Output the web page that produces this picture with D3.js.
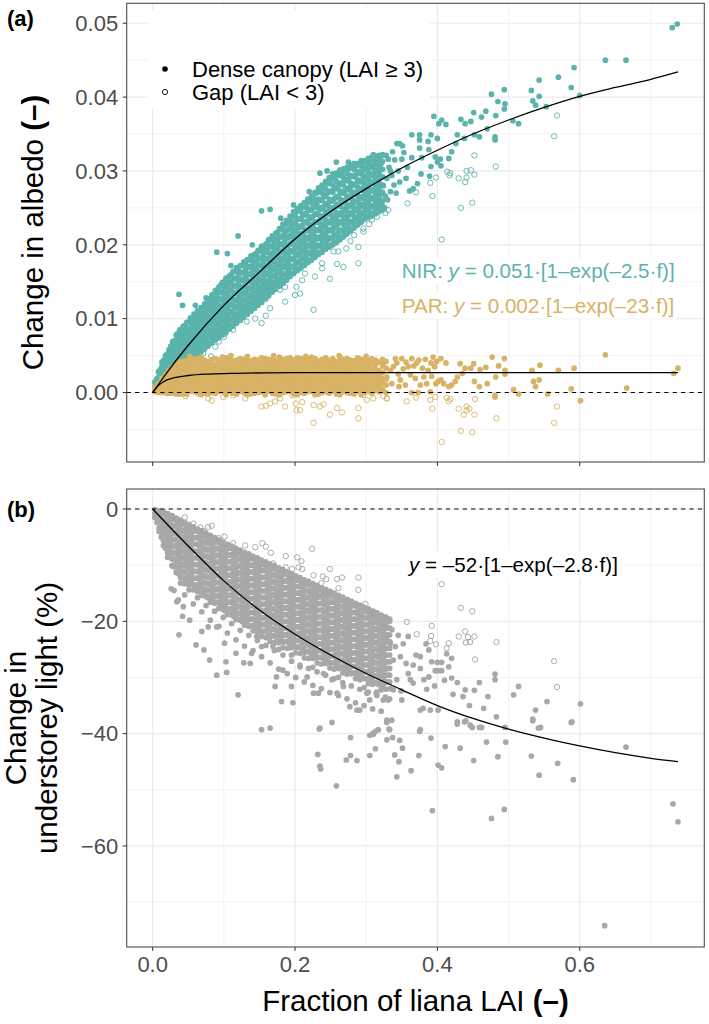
<!DOCTYPE html>
<html><head><meta charset="utf-8">
<script src="https://cdn.jsdelivr.net/npm/d3@7"></script>
<style>
body{margin:0;background:#fff}
text{font-family:"Liberation Sans",Arial,Helvetica,sans-serif}
</style>
</head><body>
<svg id="c" width="709" height="1024"></svg>
<script>
// ---------------- DATA ----------------
const xTicks=[0,0.2,0.4,0.6];
const xMinor=[0.1,0.3,0.5,0.7];
const xTickLabels=["0.0","0.2","0.4","0.6"];
const albedoTicks=[0,0.01,0.02,0.03,0.04,0.05];
const albedoTickLabels=["0.00","0.01","0.02","0.03","0.04","0.05"];
const albedoMinor=[-0.005,0.005,0.015,0.025,0.035,0.045];
const lightTicks=[0,-20,-40,-60];
const lightTickLabels=["0","\u221220","\u221240","\u221260"];
const lightMinor=[-10,-30,-50,-70];
const legendLabels=["Dense canopy (LAI \u2265 3)","Gap (LAI < 3)"];

// NIR, dense canopy (filled teal): columns [f, [albedo change ...]]
const nirDense=[
[.003,[.0002,.0008,.0014]],
[.008,[.0006,.0013,.0021,.0028]],
[.013,[.0011,.0019,.0027,.0035,.0041]],
[.018,[.0016,.0021,.0029,.0037,.0045,.0050]],
[.023,[.0021,.0027,.0034,.0042,.0050,.0058]],
[.028,[.0026,.0031,.0040,.0048,.0056,.0064,.0069]],
[.033,[.0031,.0039,.0047,.0055,.0063,.0071,.0078]],
[.038,[.0036,.0041,.0049,.0057,.0065,.0073,.0081,.0085]],
[.043,[.0040,.0046,.0055,.0064,.0073,.0082,.0090]],
[.048,[.0044,.0052,.0061,.0069,.0078,.0086,.0095]],
[.053,[.0047,.0052,.0061,.0070,.0078,.0087,.0096,.0101]],
[.058,[.0050,.0057,.0065,.0074,.0083,.0092,.0101,.0106]],
[.063,[.0052,.0059,.0068,.0076,.0085,.0094,.0103,.0111]],
[.068,[.0055,.0061,.0070,.0079,.0088,.0097,.0106,.0115]],
[.073,[.0059,.0067,.0076,.0085,.0094,.0103,.0112,.0120]],
[.078,[.0063,.0066,.0075,.0084,.0093,.0102,.0111,.0120,.0126]],
[.083,[.0067,.0074,.0083,.0092,.0101,.0110,.0119,.0128,.0132]],
[.088,[.0071,.0076,.0085,.0094,.0103,.0112,.0121,.0130,.0138]],
[.093,[.0074,.0082,.0091,.0100,.0109,.0118,.0127,.0136,.0143]],
[.098,[.0078,.0081,.0090,.0099,.0108,.0117,.0126,.0135,.0144,.0149]],
[.103,[.0082,.0089,.0098,.0107,.0116,.0125,.0134,.0143,.0152,.0155]],
[.108,[.0086,.0091,.0100,.0110,.0119,.0129,.0138,.0148,.0158]],
[.113,[.0090,.0098,.0107,.0117,.0126,.0136,.0145,.0155,.0164]],
[.118,[.0094,.0097,.0106,.0116,.0125,.0135,.0144,.0154,.0163,.0169]],
[.123,[.0098,.0105,.0114,.0124,.0133,.0143,.0152,.0162,.0172]],
[.128,[.0102,.0106,.0116,.0125,.0135,.0144,.0154,.0163,.0173,.0177]],
[.133,[.0106,.0114,.0123,.0133,.0142,.0152,.0161,.0171,.0180]],
[.138,[.0110,.0112,.0122,.0131,.0141,.0150,.0160,.0169,.0179,.0185]],
[.143,[.0114,.0120,.0130,.0139,.0149,.0158,.0168,.0177,.0187]],
[.148,[.0118,.0126,.0136,.0145,.0155,.0164,.0174,.0183,.0192]],
[.153,[.0122,.0124,.0134,.0143,.0153,.0162,.0172,.0181,.0191,.0198]],
[.158,[.0127,.0133,.0143,.0152,.0162,.0171,.0181,.0190,.0200]],
[.163,[.0131,.0139,.0149,.0159,.0169,.0179,.0189,.0199,.0207]],
[.168,[.0136,.0138,.0148,.0158,.0168,.0178,.0188,.0198,.0208,.0212]],
[.173,[.0140,.0146,.0156,.0166,.0176,.0186,.0196,.0206,.0216]],
[.178,[.0144,.0152,.0162,.0172,.0182,.0192,.0202,.0212,.0222]],
[.183,[.0148,.0150,.0160,.0170,.0180,.0190,.0200,.0210,.0220,.0228]],
[.188,[.0152,.0159,.0169,.0179,.0189,.0199,.0209,.0219,.0229,.0233]],
[.193,[.0157,.0162,.0172,.0182,.0192,.0202,.0212,.0222,.0232,.0239]],
[.198,[.0161,.0170,.0180,.0190,.0200,.0210,.0220,.0230,.0240,.0245]],
[.203,[.0165,.0166,.0176,.0186,.0196,.0206,.0216,.0226,.0236,.0246,.0249]],
[.208,[.0168,.0175,.0185,.0195,.0205,.0215,.0225,.0235,.0245,.0253]],
[.213,[.0172,.0181,.0191,.0201,.0211,.0221,.0231,.0241,.0251,.0257]],
[.218,[.0176,.0179,.0189,.0199,.0209,.0219,.0229,.0239,.0249,.0259,.0262]],
[.223,[.0179,.0187,.0197,.0207,.0217,.0227,.0237,.0247,.0257,.0266]],
[.228,[.0183,.0191,.0201,.0211,.0221,.0231,.0241,.0251,.0261,.0271]],
[.233,[.0187,.0189,.0199,.0209,.0220,.0230,.0241,.0251,.0262,.0272,.0277]],
[.238,[.0190,.0197,.0207,.0218,.0228,.0239,.0249,.0260,.0270,.0281]],
[.243,[.0194,.0203,.0213,.0224,.0234,.0245,.0255,.0266,.0276,.0286]],
[.248,[.0197,.0199,.0209,.0220,.0230,.0241,.0251,.0262,.0272,.0283,.0291]],
[.253,[.0200,.0208,.0218,.0229,.0239,.0250,.0260,.0271,.0281,.0292,.0296]],
[.258,[.0203,.0213,.0223,.0234,.0244,.0255,.0265,.0276,.0286,.0297]],
[.263,[.0207,.0210,.0220,.0231,.0241,.0252,.0262,.0273,.0283,.0294,.0301]],
[.268,[.0211,.0218,.0228,.0239,.0249,.0260,.0270,.0281,.0291,.0303]],
[.273,[.0215,.0224,.0234,.0245,.0255,.0266,.0276,.0287,.0297,.0305]],
[.278,[.0219,.0221,.0231,.0242,.0252,.0263,.0273,.0284,.0294,.0305,.0308]],
[.283,[.0223,.0229,.0239,.0250,.0260,.0271,.0281,.0292,.0302,.0310]],
[.288,[.0227,.0236,.0246,.0257,.0267,.0278,.0288,.0299,.0309]],
[.293,[.0231,.0233,.0243,.0254,.0264,.0275,.0285,.0296,.0306,.0314]],
[.298,[.0235,.0241,.0251,.0262,.0272,.0283,.0293,.0304,.0314]],
[.303,[.0237,.0246,.0256,.0267,.0277,.0288,.0298,.0309,.0317]],
[.308,[.0239,.0242,.0252,.0263,.0273,.0284,.0294,.0305,.0315,.0319]],
[.313,[.0242,.0249,.0259,.0270,.0280,.0291,.0301,.0312,.0320]],
[.318,[.0245,.0254,.0264,.0275,.0285,.0296,.0306,.0316,.0321]],
[.323,[.0247,.0250,.0260,.0271,.0281,.0292,.0302,.0313,.0322]]
];
// NIR dense canopy: second set of columns lying between the first ones
const nirDenseB=[
[.0055,[.0005,.0011,.0018]],
[.0105,[.0009,.0016,.0024,.0031]],
[.0155,[.0014,.0022,.0030,.0038,.0044]],
[.0205,[.0020,.0028,.0036,.0044,.0052]],
[.0255,[.0025,.0033,.0041,.0049,.0057,.0063]],
[.0305,[.0030,.0038,.0046,.0054,.0062,.0070]],
[.0355,[.0035,.0043,.0051,.0059,.0067,.0075,.0080]],
[.0405,[.0039,.0047,.0055,.0063,.0071,.0079,.0086]],
[.0455,[.0043,.0051,.0059,.0067,.0075,.0083,.0091]],
[.0505,[.0047,.0055,.0063,.0071,.0079,.0087,.0095]],
[.0555,[.0050,.0058,.0066,.0074,.0082,.0091,.0100]],
[.0605,[.0053,.0061,.0070,.0078,.0087,.0096,.0104]],
[.0655,[.0056,.0064,.0073,.0082,.0091,.0100,.0109]],
[.0705,[.0059,.0068,.0077,.0086,.0095,.0104,.0113]],
[.0755,[.0063,.0072,.0081,.0090,.0099,.0108,.0117]],
[.0805,[.0067,.0076,.0085,.0094,.0103,.0112,.0122,.0127]],
[.0855,[.0071,.0080,.0089,.0098,.0107,.0116,.0126,.0133]],
[.0905,[.0075,.0084,.0093,.0102,.0111,.0121,.0131,.0139]],
[.0955,[.0079,.0088,.0097,.0106,.0116,.0126,.0136,.0145]],
[.1005,[.0083,.0092,.0101,.0111,.0121,.0131,.0141,.0150]],
[.1055,[.0087,.0096,.0105,.0115,.0125,.0135,.0145,.0155]],
[.1105,[.0090,.0099,.0109,.0119,.0129,.0139,.0149,.0160]],
[.1155,[.0095,.0104,.0114,.0124,.0134,.0144,.0154,.0164]],
[.1205,[.0099,.0108,.0118,.0128,.0138,.0148,.0158,.0168]],
[.1255,[.0103,.0112,.0122,.0132,.0142,.0152,.0162,.0172]],
[.1305,[.0107,.0116,.0126,.0136,.0146,.0156,.0166,.0176]],
[.1355,[.0111,.0120,.0130,.0140,.0150,.0160,.0170,.0180]],
[.1405,[.0115,.0124,.0134,.0144,.0154,.0164,.0174,.0184]],
[.1455,[.0119,.0128,.0138,.0148,.0158,.0168,.0178,.0188]],
[.1505,[.0123,.0132,.0142,.0152,.0162,.0172,.0182,.0193]],
[.1555,[.0128,.0137,.0147,.0157,.0167,.0177,.0187,.0197]],
[.1605,[.0132,.0141,.0151,.0161,.0171,.0181,.0192,.0202]],
[.1655,[.0136,.0145,.0155,.0165,.0175,.0186,.0197,.0207]],
[.1705,[.0140,.0149,.0159,.0169,.0180,.0191,.0202,.0212]],
[.1755,[.0144,.0153,.0163,.0174,.0185,.0196,.0207,.0217]],
[.1805,[.0148,.0157,.0167,.0178,.0189,.0200,.0211,.0222]],
[.1855,[.0152,.0161,.0172,.0183,.0194,.0205,.0216,.0227]],
[.1905,[.0157,.0166,.0177,.0188,.0199,.0210,.0221,.0232]],
[.1955,[.0161,.0170,.0181,.0192,.0203,.0214,.0226,.0238]],
[.2005,[.0165,.0174,.0185,.0196,.0207,.0219,.0231,.0243]],
[.2055,[.0168,.0178,.0189,.0200,.0211,.0223,.0235,.0247]],
[.2105,[.0172,.0182,.0193,.0204,.0215,.0227,.0239,.0251]],
[.2155,[.0175,.0185,.0196,.0207,.0219,.0231,.0243,.0255]],
[.2205,[.0179,.0189,.0200,.0211,.0223,.0235,.0247,.0260]],
[.2255,[.0183,.0193,.0204,.0215,.0227,.0239,.0252,.0265]],
[.2305,[.0187,.0197,.0208,.0219,.0231,.0243,.0256,.0270]],
[.2355,[.0190,.0200,.0211,.0223,.0235,.0248,.0261,.0275]],
[.2405,[.0194,.0204,.0215,.0227,.0239,.0252,.0265,.0279]],
[.2455,[.0197,.0207,.0218,.0230,.0243,.0256,.0270,.0284]],
[.2505,[.0200,.0210,.0221,.0233,.0246,.0259,.0273,.0288]],
[.2555,[.0203,.0213,.0225,.0237,.0250,.0263,.0277,.0291]],
[.2605,[.0206,.0216,.0228,.0240,.0253,.0266,.0280,.0294]],
[.2655,[.0210,.0220,.0232,.0244,.0257,.0270,.0284,.0298]],
[.2705,[.0214,.0224,.0236,.0248,.0261,.0274,.0287,.0301]],
[.2755,[.0218,.0228,.0240,.0252,.0264,.0277,.0290,.0303]],
[.2805,[.0222,.0232,.0244,.0256,.0268,.0280,.0293,.0305]],
[.2855,[.0226,.0236,.0247,.0259,.0271,.0283,.0295,.0307]],
[.2905,[.0230,.0240,.0251,.0262,.0274,.0286,.0298,.0309]],
[.2955,[.0234,.0244,.0255,.0266,.0277,.0289,.0301,.0311]],
[.3005,[.0238,.0248,.0258,.0269,.0280,.0291,.0303,.0313]],
[.3055,[.0240,.0250,.0261,.0272,.0283,.0294,.0305,.0315]],
[.3105,[.0243,.0253,.0264,.0275,.0286,.0297,.0308,.0317]],
[.3155,[.0246,.0256,.0267,.0278,.0289,.0300,.0310,.0318]],
[.3205,[.0248,.0258,.0269,.0280,.0291,.0302,.0312,.0320]]
];
// NIR dense canopy: scattered points [f, albedo change]
const nirDenseExtra=[
[.037,.0133],[.042,.0118],[.060,.0118],[.075,.0128],[.090,.0190],[.105,.0188],[.110,.0172],[.120,.0212],
[.140,.0200],[.153,.0246],[.165,.0248],[.180,.0236],[.198,.0254],[.220,.0272],[.235,.0297],[.245,.0300],
[.258,.0312],[.275,.0312],[.730,.0494],[.737,.0499],[.636,.0450],[.665,.0450],[.592,.0440],[.570,.0427],
[.543,.0423],[.588,.0413],[.600,.0402],[.532,.0409],[.543,.0401],[.534,.0395],[.538,.0389],[.553,.0387],
[.494,.0410],[.476,.0404],[.495,.0391],[.494,.0384],[.485,.0394],[.506,.0368],[.514,.0364],[.482,.0375],
[.468,.0381],[.462,.0373],[.451,.0379],[.447,.0367],[.433,.0370],[.439,.0364],[.470,.0357],[.459,.0346],
[.452,.0349],[.481,.0346],[.481,.0342],[.395,.0374],[.402,.0364],[.406,.0369],[.412,.0363],[.428,.0349],
[.426,.0337],[.438,.0344],[.364,.0349],[.375,.0349],[.391,.0349],[.375,.0342],[.400,.0344],[.387,.0340],
[.388,.0329],[.375,.0331],[.343,.0337],[.347,.0337],[.351,.0334],[.337,.0326],[.328,.0321],[.321,.0310],
[.310,.0322],[.306,.0315],[.287,.0310],[.350,.0316],[.364,.0318],[.378,.0318],[.397,.0319],[.404,.0316],
[.416,.0317],[.400,.0312],[.391,.0306],[.405,.0307],[.420,.0326],[.377,.0296],[.389,.0293],[.372,.0283],
[.361,.0273],[.366,.0276],[.347,.0285],[.339,.0281],[.334,.0272],[.327,.0266],[.330,.0261],[.322,.0255],
[.334,.0300],[.336,.0294],[.326,.0250],[.329,.0290],[.332,.0305],[.340,.0315],[.345,.0300],[.356,.0290],
[.358,.0305],[.353,.0325],[.342,.0270],[.324,.0280],[.331,.0316]
];
// NIR, gap (open teal)
const nirGap=[
[.568,.0375],[.564,.0347],[.452,.0321],[.482,.0306],[.414,.0299],[.418,.0297],[.417,.0294],[.398,.0291],
[.390,.0284],[.393,.0266],[.370,.0271],[.358,.0256],[.433,.0250],[.449,.0257],[.430,.0290],[.439,.0285],
[.441,.0300],[.447,.0301],[.452,.0295],[.441,.0291],[.331,.0247],[.327,.0243],[.315,.0238],[.308,.0234],
[.304,.0228],[.296,.0222],[.296,.0218],[.406,.0207],[.289,.0197],[.289,.0175],[.249,.0154],[.226,.0112],
[.259,.0174],[.268,.0170],[.254,.0191],[.261,.0191],[.238,.0168],[.238,.0175],[.228,.0157],[.214,.0161],
[.202,.0143],[.207,.0134],[.210,.0152],[.200,.0132],[.186,.0123],[.186,.0143],[.179,.0139],[.175,.0148],
[.160,.0132],[.159,.0127],[.165,.0114],[.159,.0104],[.153,.0094],[.144,.0100],[.132,.0096],[.131,.0107],
[.121,.0100],[.113,.0085],[.102,.0080],[.100,.0075],[.093,.0069],[.088,.0062],[.082,.0049],[.071,.0053],
[.066,.0064],[.060,.0049],[.050,.0047],[.047,.0052],[.144,.0121],[.137,.0118],[.278,.0205],[.283,.0213],
[.272,.0195],[.318,.0252]
];
// PAR, dense canopy (filled tan): columns
const parDense=[
[.003,[.0001,.0004,.0007]],
[.008,[.0000,.0004,.0008,.0012]],
[.013,[.0000,.0005,.0010,.0015,.0019]],
[.018,[.0000,.0005,.0010,.0015,.0020,.0024]],
[.023,[-.0001,.0004,.0010,.0015,.0021,.0026,.0030]],
[.028,[-.0001,.0005,.0011,.0017,.0023,.0029,.0034]],
[.033,[-.0002,.0004,.0010,.0016,.0022,.0028,.0034,.0038]],
[.038,[-.0002,.0004,.0011,.0017,.0024,.0030,.0036,.0041]],
[.043,[-.0002,.0005,.0011,.0018,.0024,.0031,.0037,.0043]],
[.048,[-.0002,.0004,.0011,.0017,.0024,.0030,.0037,.0043]],
[.053,[.0002,.0008,.0015,.0021,.0028,.0034,.0041,.0047]],
[.058,[.0001,.0007,.0014,.0020,.0027,.0033,.0040,.0045]],
[.063,[.0000,.0006,.0013,.0019,.0026,.0032,.0039,.0046]],
[.068,[-.0003,.0003,.0009,.0016,.0022,.0029,.0035,.0042,.0048]],
[.073,[-.0001,.0005,.0012,.0018,.0025,.0031,.0038,.0044]],
[.078,[-.0002,.0004,.0011,.0017,.0024,.0030,.0037,.0042]],
[.083,[.0000,.0006,.0013,.0019,.0026,.0032,.0039,.0045]],
[.088,[-.0001,.0005,.0012,.0018,.0025,.0031,.0038,.0046]],
[.093,[.0001,.0007,.0014,.0020,.0027,.0033,.0040,.0044]],
[.098,[.0002,.0008,.0015,.0021,.0028,.0034,.0041,.0048]],
[.103,[-.0003,.0003,.0009,.0016,.0022,.0029,.0035,.0042,.0047]],
[.108,[.0001,.0007,.0014,.0020,.0027,.0033,.0040,.0046]],
[.113,[-.0001,.0005,.0012,.0018,.0025,.0031,.0038,.0043]],
[.118,[-.0002,.0004,.0011,.0017,.0024,.0030,.0037,.0044]],
[.123,[.0002,.0008,.0015,.0021,.0028,.0034,.0041,.0046]],
[.128,[.0000,.0006,.0013,.0019,.0026,.0032,.0039,.0045]],
[.133,[-.0003,.0003,.0009,.0016,.0022,.0029,.0035,.0042,.0049]],
[.138,[-.0002,.0004,.0011,.0017,.0024,.0030,.0037,.0043]],
[.143,[-.0001,.0005,.0012,.0018,.0025,.0031,.0038,.0045]],
[.148,[.0000,.0006,.0013,.0019,.0026,.0032,.0039,.0044]],
[.153,[.0001,.0007,.0014,.0020,.0027,.0033,.0040,.0047]],
[.158,[-.0003,.0003,.0009,.0016,.0022,.0029,.0035,.0042,.0046]],
[.163,[.0002,.0008,.0015,.0021,.0028,.0034,.0041,.0045]],
[.168,[-.0001,.0005,.0012,.0018,.0025,.0031,.0038,.0044]],
[.173,[-.0002,.0004,.0011,.0017,.0024,.0030,.0037,.0043]],
[.178,[-.0003,.0003,.0009,.0016,.0022,.0029,.0035,.0042,.0048]],
[.183,[.0000,.0006,.0013,.0019,.0026,.0032,.0039,.0045]],
[.188,[.0001,.0007,.0014,.0020,.0027,.0033,.0040,.0046]],
[.193,[.0002,.0008,.0015,.0021,.0028,.0034,.0041,.0047]],
[.198,[-.0002,.0004,.0011,.0017,.0024,.0030,.0037,.0044]],
[.203,[-.0003,.0003,.0009,.0016,.0022,.0029,.0035,.0042,.0047]],
[.208,[.0000,.0006,.0013,.0019,.0026,.0032,.0039,.0046]],
[.213,[-.0001,.0005,.0012,.0018,.0025,.0031,.0038,.0043]],
[.218,[.0001,.0007,.0014,.0020,.0027,.0033,.0040,.0045]],
[.223,[.0002,.0008,.0015,.0021,.0028,.0034,.0041,.0048]],
[.228,[-.0003,.0003,.0009,.0016,.0022,.0029,.0035,.0042,.0046]],
[.233,[-.0002,.0004,.0011,.0017,.0024,.0030,.0037,.0043]],
[.238,[.0000,.0006,.0013,.0019,.0026,.0032,.0039,.0045]],
[.243,[.0001,.0007,.0014,.0020,.0027,.0033,.0040,.0047]],
[.248,[-.0001,.0005,.0012,.0018,.0025,.0031,.0038,.0044]],
[.253,[.0002,.0008,.0015,.0021,.0028,.0034,.0041,.0046]],
[.258,[-.0002,.0004,.0011,.0017,.0024,.0030,.0037,.0042]],
[.263,[-.0003,.0003,.0009,.0016,.0022,.0029,.0035,.0042,.0048]],
[.268,[.0001,.0007,.0014,.0020,.0027,.0033,.0040,.0045]],
[.273,[.0000,.0006,.0013,.0019,.0026,.0032,.0039,.0046]],
[.278,[-.0001,.0005,.0012,.0018,.0025,.0031,.0038,.0044]],
[.283,[-.0002,.0004,.0011,.0017,.0024,.0030,.0037,.0043]],
[.288,[.0002,.0008,.0015,.0021,.0028,.0034,.0041,.0047]],
[.293,[-.0003,.0003,.0009,.0016,.0022,.0029,.0035,.0042,.0045]],
[.298,[.0000,.0005,.0011,.0018,.0024,.0031,.0037,.0044]],
[.303,[.0002,.0009,.0016,.0022,.0029,.0036,.0043]],
[.308,[-.0001,.0006,.0012,.0019,.0025,.0032,.0040,.0046]],
[.313,[.0003,.0010,.0017,.0024,.0031,.0038,.0044]],
[.318,[.0001,.0008,.0015,.0022,.0030,.0041]],
[.323,[.0004,.0012,.0019,.0027,.0036,.0045]],
[.328,[.0000,.0010,.0018,.0033,.0042]]
];
const parDenseExtra=[
[.636,.0051],[.738,.0033],[.732,.0026],[.666,.0006],[.601,-.0011],[.592,.0033],[.588,.0005],[.570,.0030],
[.555,-.0002],[.544,.0037],[.543,.0017],[.535,.0015],[.538,.0008],[.533,.0030],[.514,-.0002],[.507,.0004],
[.494,.0046],[.495,.0030],[.495,.0025],[.482,.0021],[.486,.0036],[.477,.0048],[.481,-.0004],[.470,.0012],
[.468,.0034],[.460,.0031],[.459,.0008],[.452,.0015],[.451,.0039],[.447,.0033],[.439,.0033],[.435,.0026],
[.432,.0039],[.428,.0021],[.425,.0015],[.420,.0010],[.416,.0008],[.409,.0012],[.405,.0017],[.401,.0015],
[.398,.0012],[.405,.0046],[.394,.0048],[.399,.0042],[.412,.0040],[.391,.0040],[.387,.0030],[.381,.0021],
[.376,.0010],[.374,.0044],[.371,.0040],[.364,.0046],[.362,.0024],[.359,.0035],[.350,.0046],[.348,.0017],
[.343,.0040],[.341,.0046],[.334,.0030],[.329,.0021],[.324,.0040],[.364,.0000],[.373,.0000],[.390,.0001],
[.481,-.0006],[.338,.0035],[.345,.0025],[.352,.0032],[.356,.0041],[.367,.0036],[.369,.0019],[.379,.0033],
[.383,.0045],[.385,.0012],[.392,.0022],[.396,.0035],[.346,.0008],[.336,.0012],[.355,.0010],
[.052,.0049],[.110,.0050],[.170,.0050],[.215,.0049],[.262,.0050],[.300,.0049]
];
// PAR, gap (open tan)
const parGap=[
[.406,-.0067],[.433,-.0052],[.449,-.0054],[.483,-.0035],[.564,-.0041],[.568,-.0019],[.430,-.0022],[.437,-.0030],
[.441,-.0024],[.445,-.0022],[.452,-.0030],[.441,-.0019],[.453,-.0009],[.416,-.0012],[.418,-.0009],[.413,-.0007],
[.393,-.0022],[.390,-.0010],[.397,-.0006],[.370,-.0007],[.357,-.0012],[.329,-.0008],[.324,-.0005],
[.226,-.0041],[.289,-.0035],[.289,-.0021],[.249,-.0030],[.266,-.0027],[.259,-.0021],[.240,-.0016],[.235,-.0019],
[.226,-.0017],[.207,-.0024],[.202,-.0024],[.201,-.0015],[.210,-.0013],[.186,-.0019],[.172,-.0012],[.165,-.0015],
[.159,-.0018],[.153,-.0019],[.130,-.0008],[.113,-.0004],[.099,-.0006],[.083,-.0011],[.078,-.0008],[.064,-.0002],
[.046,-.0005],[.020,-.0001],[.179,-.0008],[.196,-.0004],[.301,-.0010],[.310,-.0008],[.329,-.0008],[.296,-.0003]
];
// Understorey light, dense canopy (filled grey): columns [f, [% change ...]]
const lightDense=[
[.003,[-0.1,-0.8,-1.5]],
[.009,[-0.3,-1.0,-2.2,-3.4,-4.0]],
[.015,[-0.5,-0.8,-2.0,-3.2,-4.4,-5.6,-6.5]],
[.021,[-0.8,-1.8,-3.0,-4.2,-5.4,-6.6,-7.8,-8.6]],
[.027,[-1.2,-1.7,-2.9,-4.1,-5.3,-6.5,-7.7,-8.9,-10.1]],
[.033,[-1.6,-2.9,-4.1,-5.3,-6.5,-7.7,-8.9,-10.1,-11.3]],
[.039,[-2.0,-2.9,-4.1,-5.3,-6.5,-7.7,-8.9,-10.1,-11.3,-12.2,-13.2]],
[.045,[-2.4,-2.8,-4.0,-5.2,-6.4,-7.6,-8.8,-10.0,-11.2,-12.4,-13.3,-15.3]],
[.051,[-2.8,-4.0,-5.2,-6.4,-7.6,-8.8,-10.0,-11.2,-12.4,-13.5,-14.4]],
[.057,[-3.2,-3.9,-5.1,-6.3,-7.5,-8.7,-9.9,-11.1,-12.3,-13.5,-14.4,-16.9]],
[.063,[-3.6,-3.9,-5.1,-6.3,-7.5,-8.7,-9.9,-11.1,-12.3,-13.5,-14.7,-15.8]],
[.069,[-3.9,-4.9,-6.1,-7.3,-8.5,-9.7,-10.9,-12.1,-13.3,-14.5,-15.4,-18.3]],
[.075,[-4.3,-4.8,-6.0,-7.2,-8.4,-9.6,-10.8,-12.0,-13.2,-14.4,-15.6,-17.2]],
[.081,[-4.7,-6.0,-7.2,-8.4,-9.6,-10.8,-12.0,-13.2,-14.4,-15.6,-16.6,-19.8]],
[.087,[-5.1,-6.0,-7.2,-8.4,-9.6,-10.8,-12.0,-13.2,-14.4,-15.6,-16.8,-18.2]],
[.093,[-5.5,-5.9,-7.1,-8.3,-9.5,-10.7,-11.9,-13.1,-14.3,-15.5,-16.7,-17.7,-20.9]],
[.099,[-5.9,-7.1,-8.3,-9.5,-10.7,-11.9,-13.1,-14.3,-15.5,-16.7,-17.9,-19.3]],
[.105,[-6.3,-7.0,-8.2,-9.4,-10.6,-11.8,-13.0,-14.2,-15.4,-16.6,-17.8,-18.8,-22.1]],
[.111,[-6.6,-6.9,-8.1,-9.3,-10.5,-11.7,-12.9,-14.1,-15.3,-16.5,-17.7,-18.9,-20.4]],
[.117,[-7.0,-8.0,-9.2,-10.4,-11.6,-12.8,-14.0,-15.2,-16.4,-17.6,-18.8,-19.7,-23.3]],
[.123,[-7.3,-7.8,-9.0,-10.2,-11.4,-12.6,-13.8,-15.0,-16.2,-17.4,-18.6,-19.8,-21.6]],
[.129,[-7.7,-9.0,-10.2,-11.4,-12.6,-13.8,-15.0,-16.2,-17.4,-18.6,-19.8,-20.7,-24.4]],
[.135,[-8.0,-8.9,-10.1,-11.3,-12.5,-13.7,-14.9,-16.1,-17.3,-18.5,-19.7,-20.9,-22.5]],
[.141,[-8.4,-8.8,-10.0,-11.2,-12.4,-13.6,-14.8,-16.0,-17.2,-18.4,-19.6,-20.8,-21.7,-25.2]],
[.147,[-8.7,-9.9,-11.1,-12.3,-13.5,-14.7,-15.9,-17.1,-18.3,-19.5,-20.7,-21.9,-23.4]],
[.153,[-9.1,-9.8,-11.0,-12.2,-13.4,-14.6,-15.8,-17.0,-18.2,-19.4,-20.6,-21.8,-22.7,-26.3]],
[.159,[-9.4,-9.7,-10.9,-12.1,-13.3,-14.5,-15.7,-16.9,-18.1,-19.3,-20.5,-21.7,-22.9,-24.3]],
[.165,[-9.8,-10.8,-12.0,-13.2,-14.4,-15.6,-16.8,-18.0,-19.2,-20.4,-21.6,-22.8,-23.6,-27.4]],
[.171,[-10.1,-10.6,-11.8,-13.0,-14.2,-15.4,-16.6,-17.8,-19.0,-20.2,-21.4,-22.6,-23.8,-25.2]],
[.177,[-10.5,-11.8,-13.0,-14.2,-15.4,-16.6,-17.8,-19.0,-20.2,-21.4,-22.6,-23.8,-25.0,-28.5]],
[.183,[-10.8,-11.7,-12.9,-14.1,-15.3,-16.5,-17.7,-18.9,-20.1,-21.3,-22.5,-23.7,-24.7,-26.0]],
[.189,[-11.2,-11.6,-12.8,-14.0,-15.2,-16.4,-17.6,-18.8,-20.0,-21.2,-22.4,-23.6,-24.8,-29.3]],
[.195,[-11.5,-12.7,-13.9,-15.1,-16.3,-17.5,-18.7,-19.9,-21.1,-22.3,-23.5,-24.7,-26.0,-27.1]],
[.201,[-11.9,-12.6,-13.8,-15.0,-16.2,-17.4,-18.6,-19.8,-21.0,-22.2,-23.4,-24.6,-25.6,-30.0]],
[.207,[-12.2,-12.5,-13.7,-14.9,-16.1,-17.3,-18.5,-19.7,-20.9,-22.1,-23.3,-24.5,-25.7,-27.8]],
[.213,[-12.6,-13.6,-14.8,-16.0,-17.2,-18.4,-19.6,-20.8,-22.0,-23.2,-24.4,-25.6,-26.5,-30.8]],
[.219,[-12.9,-13.4,-14.6,-15.8,-17.0,-18.2,-19.4,-20.6,-21.8,-23.0,-24.2,-25.4,-26.6,-28.4]],
[.225,[-13.3,-14.6,-15.8,-17.0,-18.2,-19.4,-20.6,-21.8,-23.0,-24.2,-25.4,-26.6,-28.2,-31.4]],
[.231,[-13.6,-14.5,-15.7,-16.9,-18.1,-19.3,-20.5,-21.7,-22.9,-24.1,-25.3,-26.5,-27.4,-29.0]],
[.237,[-14.0,-14.4,-15.6,-16.8,-18.0,-19.2,-20.4,-21.6,-22.8,-24.0,-25.2,-26.4,-27.6,-32.0]],
[.243,[-14.3,-15.5,-16.7,-17.9,-19.1,-20.3,-21.5,-22.7,-23.9,-25.1,-26.3,-27.5,-29.6]],
[.249,[-14.7,-15.4,-16.6,-17.8,-19.0,-20.2,-21.4,-22.6,-23.8,-25.0,-26.2,-27.4,-28.3,-32.7]],
[.255,[-15.0,-15.3,-16.5,-17.7,-18.9,-20.1,-21.3,-22.5,-23.7,-24.9,-26.1,-27.3,-28.5,-30.2]],
[.261,[-15.4,-16.4,-17.6,-18.8,-20.0,-21.2,-22.4,-23.6,-24.8,-26.0,-27.2,-28.4,-30.0,-33.2]],
[.267,[-15.7,-16.2,-17.4,-18.6,-19.8,-21.0,-22.2,-23.4,-24.6,-25.8,-27.0,-28.2,-29.2,-30.9]],
[.273,[-16.1,-17.4,-18.6,-19.8,-21.0,-22.2,-23.4,-24.6,-25.8,-27.0,-28.2,-29.4,-33.8]],
[.279,[-16.4,-17.3,-18.5,-19.7,-20.9,-22.1,-23.3,-24.5,-25.7,-26.9,-28.1,-29.3,-31.5]],
[.285,[-16.8,-17.2,-18.4,-19.6,-20.8,-22.0,-23.2,-24.4,-25.6,-26.8,-28.0,-29.2,-30.2,-34.5]],
[.291,[-17.1,-18.3,-19.5,-20.7,-21.9,-23.1,-24.3,-25.5,-26.7,-27.9,-29.1,-30.3,-32.1]],
[.297,[-17.5,-18.2,-19.4,-20.6,-21.8,-23.0,-24.2,-25.4,-26.6,-27.8,-29.0,-30.2,-31.8,-35.0]],
[.303,[-17.8,-18.1,-19.3,-20.5,-21.7,-22.9,-24.1,-25.3,-26.5,-27.7,-28.9,-30.1,-31.1,-32.6]],
[.309,[-18.2,-19.2,-20.4,-21.6,-22.8,-24.0,-25.2,-26.4,-27.6,-28.8,-30.0,-31.2,-35.6]],
[.315,[-18.5,-19.0,-20.2,-21.4,-22.6,-23.8,-25.0,-26.2,-27.4,-28.6,-29.8,-31.0,-32.6,-33.2]],
[.321,[-18.9,-20.2,-21.4,-22.6,-23.8,-25.0,-26.2,-27.4,-28.6,-29.8,-31.0,-32.2,-36.0]],
[.327,[-19.2,-20.1,-21.3,-22.5,-23.7,-24.9,-26.1,-27.3,-28.5,-29.7,-30.9,-32.1,-33.5]],
[.333,[-19.6,-20.0,-21.2,-22.4,-23.6,-24.8,-26.0,-27.2,-28.4,-29.6,-30.8,-32.0,-33.8]]
];
// Understorey light, dense canopy: second set of columns lying between the first ones
const lightDenseB=[
[.006,[-0.4,-1.3,-2.4]],
[.012,[-0.6,-1.6,-2.8,-4.0,-5.0]],
[.018,[-1.0,-2.2,-3.4,-4.6,-5.8,-7.0]],
[.024,[-1.4,-2.5,-3.7,-4.9,-6.1,-7.3,-8.5]],
[.030,[-1.9,-3.1,-4.3,-5.5,-6.7,-7.9,-9.1,-10.3]],
[.036,[-2.3,-3.5,-4.7,-5.9,-7.1,-8.3,-9.5,-10.7,-11.5]],
[.042,[-2.7,-3.8,-5.0,-6.2,-7.4,-8.6,-9.8,-11.0,-12.2]],
[.048,[-3.1,-4.3,-5.5,-6.7,-7.9,-9.1,-10.3,-11.5,-12.7]],
[.054,[-3.5,-4.6,-5.8,-7.0,-8.2,-9.4,-10.6,-11.8,-13.0]],
[.060,[-3.9,-5.1,-6.3,-7.5,-8.7,-9.9,-11.1,-12.3,-13.5,-14.2]],
[.066,[-4.3,-5.4,-6.6,-7.8,-9.0,-10.2,-11.4,-12.6,-13.8,-14.7]],
[.072,[-4.6,-5.8,-7.0,-8.2,-9.4,-10.6,-11.8,-13.0,-14.2,-15.3]],
[.078,[-5.1,-6.2,-7.4,-8.6,-9.8,-11.0,-12.2,-13.4,-14.6,-15.8]],
[.084,[-5.5,-6.6,-7.8,-9.0,-10.2,-11.4,-12.6,-13.8,-15.0,-16.2]],
[.090,[-5.9,-7.0,-8.2,-9.4,-10.6,-11.8,-13.0,-14.2,-15.4,-16.6]],
[.096,[-6.3,-7.5,-8.7,-9.9,-11.1,-12.3,-13.5,-14.7,-15.9,-17.1]],
[.102,[-6.7,-7.8,-9.0,-10.2,-11.4,-12.6,-13.8,-15.0,-16.2,-17.4,-18.1]],
[.108,[-7.0,-8.2,-9.4,-10.6,-11.8,-13.0,-14.2,-15.4,-16.6,-17.8,-18.6]],
[.114,[-7.4,-8.6,-9.8,-11.0,-12.2,-13.4,-14.6,-15.8,-17.0,-18.2,-19.1]],
[.120,[-7.8,-8.9,-10.1,-11.3,-12.5,-13.7,-14.9,-16.1,-17.3,-18.5,-19.6]],
[.126,[-8.1,-9.3,-10.5,-11.7,-12.9,-14.1,-15.3,-16.5,-17.7,-18.9,-20.1]],
[.132,[-8.5,-9.6,-10.8,-12.0,-13.2,-14.4,-15.6,-16.8,-18.0,-19.2,-20.4]],
[.138,[-8.8,-10.0,-11.2,-12.4,-13.6,-14.8,-16.0,-17.2,-18.4,-19.6,-20.8]],
[.144,[-9.2,-10.3,-11.5,-12.7,-13.9,-15.1,-16.3,-17.5,-18.7,-19.9,-21.1]],
[.150,[-9.5,-10.7,-11.9,-13.1,-14.3,-15.5,-16.7,-17.9,-19.1,-20.3,-21.5]],
[.156,[-9.9,-11.0,-12.2,-13.4,-14.6,-15.8,-17.0,-18.2,-19.4,-20.6,-21.8]],
[.162,[-10.2,-11.4,-12.6,-13.8,-15.0,-16.2,-17.4,-18.6,-19.8,-21.0,-22.2]],
[.168,[-10.6,-11.7,-12.9,-14.1,-15.3,-16.5,-17.7,-18.9,-20.1,-21.3,-22.5]],
[.174,[-10.9,-12.1,-13.3,-14.5,-15.7,-16.9,-18.1,-19.3,-20.5,-21.7,-22.9]],
[.180,[-11.3,-12.4,-13.6,-14.8,-16.0,-17.2,-18.4,-19.6,-20.8,-22.0,-23.2]],
[.186,[-11.6,-12.8,-14.0,-15.2,-16.4,-17.6,-18.8,-20.0,-21.2,-22.4,-23.6]],
[.192,[-12.0,-13.1,-14.3,-15.5,-16.7,-17.9,-19.1,-20.3,-21.5,-22.7,-23.9]],
[.198,[-12.3,-13.5,-14.7,-15.9,-17.1,-18.3,-19.5,-20.7,-21.9,-23.1,-24.3]],
[.204,[-12.7,-13.8,-15.0,-16.2,-17.4,-18.6,-19.8,-21.0,-22.2,-23.4,-24.6]],
[.210,[-13.0,-14.2,-15.4,-16.6,-17.8,-19.0,-20.2,-21.4,-22.6,-23.8,-25.0]],
[.216,[-13.4,-14.5,-15.7,-16.9,-18.1,-19.3,-20.5,-21.7,-22.9,-24.1,-25.3]],
[.222,[-13.7,-14.9,-16.1,-17.3,-18.5,-19.7,-20.9,-22.1,-23.3,-24.5,-25.7]],
[.228,[-14.1,-15.2,-16.4,-17.6,-18.8,-20.0,-21.2,-22.4,-23.6,-24.8,-26.0]],
[.234,[-14.4,-15.6,-16.8,-18.0,-19.2,-20.4,-21.6,-22.8,-24.0,-25.2,-26.4]],
[.240,[-14.8,-15.9,-17.1,-18.3,-19.5,-20.7,-21.9,-23.1,-24.3,-25.5,-26.7]],
[.246,[-15.1,-16.3,-17.5,-18.7,-19.9,-21.1,-22.3,-23.5,-24.7,-25.9,-27.1]],
[.252,[-15.5,-16.6,-17.8,-19.0,-20.2,-21.4,-22.6,-23.8,-25.0,-26.2,-27.4]],
[.258,[-15.8,-17.0,-18.2,-19.4,-20.6,-21.8,-23.0,-24.2,-25.4,-26.6,-27.8]],
[.264,[-16.2,-17.3,-18.5,-19.7,-20.9,-22.1,-23.3,-24.5,-25.7,-26.9,-28.1]],
[.270,[-16.5,-17.7,-18.9,-20.1,-21.3,-22.5,-23.7,-24.9,-26.1,-27.3,-28.5]],
[.276,[-16.9,-18.0,-19.2,-20.4,-21.6,-22.8,-24.0,-25.2,-26.4,-27.6,-28.8]],
[.282,[-17.2,-18.4,-19.6,-20.8,-22.0,-23.2,-24.4,-25.6,-26.8,-28.0,-29.2]],
[.288,[-17.6,-18.7,-19.9,-21.1,-22.3,-23.5,-24.7,-25.9,-27.1,-28.3,-29.5]],
[.294,[-17.9,-19.1,-20.3,-21.5,-22.7,-23.9,-25.1,-26.3,-27.5,-28.7,-29.9]],
[.300,[-18.3,-19.4,-20.6,-21.8,-23.0,-24.2,-25.4,-26.6,-27.8,-29.0,-30.2]],
[.306,[-18.6,-19.8,-21.0,-22.2,-23.4,-24.6,-25.8,-27.0,-28.2,-29.4,-30.6]],
[.312,[-19.0,-20.1,-21.3,-22.5,-23.7,-24.9,-26.1,-27.3,-28.5,-29.7,-30.9]],
[.318,[-19.3,-20.5,-21.7,-22.9,-24.1,-25.3,-26.5,-27.7,-28.9,-30.1,-31.3]],
[.324,[-19.7,-20.8,-22.0,-23.2,-24.4,-25.6,-26.8,-28.0,-29.2,-30.4,-31.6]],
[.330,[-20.0,-21.2,-22.4,-23.6,-24.8,-26.0,-27.2,-28.4,-29.6,-30.8]]
];
const lightDenseExtra=[
[.030,-14.5],[.034,-16.5],[.042,-19.1],[.037,-22.4],[.061,-24.2],[.072,-25.1],[.080,-26.9],[.090,-29.6],
[.104,-29.1],[.090,-21.0],[.101,-23.9],[.120,-33.1],[.128,-27.4],[.153,-39.3],[.165,-39.0],[.181,-34.3],
[.197,-34.5],[.172,-31.6],[.235,-39.0],[.252,-38.0],[.291,-35.8],[.310,-39.9],[.026,-14.2],[.069,-21.8],
[.078,-21.0],[.103,-27.2],[.117,-25.7],[.137,-27.5],[.139,-25.7],[.146,-22.7],[.153,-24.5],[.169,-24.5],
[.174,-29.9],[.183,-28.7],[.195,-31.6],[.207,-28.1],[.217,-29.9],[.226,-32.8],[.233,-32.8],[.240,-29.3],
[.252,-30.4],[.259,-32.8],[.268,-31.6],[.277,-35.2],[.287,-35.8],[.291,-30.4],[.301,-32.8],[.305,-34.0],
[.314,-32.8],[.324,-34.0],[.329,-37.6],[.333,-39.3],[.036,-16.2],[.043,-17.4],[.052,-19.8],
[.601,-34.7],[.589,-37.9],[.554,-34.3],[.538,-35.8],[.534,-37.4],[.545,-38.9],[.514,-31.6],[.507,-33.1],
[.483,-37.0],[.471,-33.4],[.481,-29.4],[.481,-30.4],[.459,-30.9],[.452,-32.3],[.459,-38.9],[.449,-38.9],
[.440,-37.7],[.428,-37.9],[.439,-32.2],[.436,-33.4],[.428,-30.9],[.420,-30.1],[.416,-28.1],[.406,-28.8],
[.401,-28.8],[.397,-28.8],[.406,-27.3],[.400,-27.3],[.388,-29.9],[.381,-30.4],[.385,-32.1],[.388,-25.1],
[.376,-28.4],[.376,-26.3],[.370,-26.0],[.359,-29.3],[.362,-30.4],[.366,-31.0],[.376,-35.8],[.390,-35.8],
[.401,-35.8],[.376,-39.3],[.350,-34.0],[.331,-34.0],[.336,-37.6],[.349,-32.4],[.338,-32.2],[.343,-30.4],
[.348,-26.3],[.338,-26.9],[.341,-24.5],[.334,-23.9],[.336,-21.5],[.329,-22.7],[.329,-21.0],
[.234,-39.2],[.232,-43.7],[.235,-45.8],[.236,-46.3],[.258,-49.3],[.272,-44.7],[.278,-43.9],[.287,-44.8],
[.278,-40.7],[.305,-40.3],[.310,-40.1],[.313,-39.6],[.317,-39.3],[.305,-43.9],[.313,-42.7],[.329,-38.0],
[.332,-39.2],[.337,-40.7],[.340,-43.8],[.346,-45.0],[.343,-47.7],[.347,-41.2],[.351,-42.6],[.363,-46.6],
[.374,-43.9],[.375,-39.6],[.391,-40.8],[.393,-53.7],[.401,-45.6],[.406,-46.1],[.411,-42.3],[.428,-38.3],
[.432,-42.6],[.438,-37.9],[.446,-38.5],[.451,-44.8],[.462,-38.9],[.469,-41.5],[.476,-55.1],[.485,-44.1],
[.494,-53.5],[.496,-41.5],[.495,-38.9],[.532,-44.0],[.534,-37.7],[.542,-39.0],[.543,-47.4],[.569,-45.3],
[.588,-38.0],[.591,-48.2],[.665,-42.4],[.731,-52.5],[.738,-55.7],[.635,-74.2],
[.359,-22.7],[.392,-27.2],[.420,-26.6],[.380,-35.5],[.329,-41.1],[.345,-22.5],[.352,-24.0],[.356,-27.5],
[.366,-27.8],[.384,-24.0],[.396,-31.5],[.410,-30.5],[.413,-25.8],[.422,-33.0],[.445,-35.0],[.465,-35.5]
];
// Understorey light, gap (open grey)
const lightGap=[
[.020,-0.9],[.045,-1.5],[.035,-2.1],[.049,-3.2],[.067,-3.3],[.078,-3.2],[.083,-3.0],[.071,-3.9],
[.074,-4.6],[.093,-5.2],[.101,-4.9],[.113,-6.1],[.130,-6.5],[.144,-6.8],[.154,-6.1],[.159,-6.7],
[.166,-7.8],[.224,-7.1],[.187,-8.4],[.203,-8.6],[.209,-9.3],[.120,-7.4],[.127,-8.2],[.134,-8.9],
[.145,-9.3],[.160,-10.0],[.169,-9.7],[.182,-10.9],[.187,-10.4],[.196,-10.7],[.205,-10.4],[.210,-10.7],
[.196,-11.8],[.185,-12.3],[.195,-12.6],[.226,-11.8],[.239,-12.0],[.249,-10.7],[.259,-12.5],[.266,-12.2],
[.237,-13.2],[.244,-12.5],[.223,-14.7],[.234,-14.6],[.242,-14.7],[.249,-14.7],[.261,-14.1],[.289,-12.2],
[.289,-14.4],[.294,-17.4],[.299,-16.9],[.305,-18.8],[.310,-18.3],[.316,-19.2],[.329,-19.5],[.034,-1.8],
[.109,-7.8],[.153,-10.6],[.027,-1.2],[.040,-2.4],[.057,-2.6],[.052,-3.3],
[.406,-13.4],[.433,-17.6],[.449,-18.2],[.357,-20.1],[.392,-20.8],[.371,-22.3],[.391,-22.6],[.398,-24.1],
[.390,-23.5],[.416,-23.9],[.413,-24.8],[.430,-22.7],[.439,-21.8],[.443,-22.8],[.446,-23.7],[.452,-22.7],
[.440,-23.8],[.453,-26.8],[.483,-23.7],[.564,-27.1],[.568,-31.7],[.324,-20.3]
];
// Fitted curves [f, value]
const nirFit=[[0,0],[.02,.0027],[.05,.0064],[.1,.0118],[.15,.0163],[.2,.0208],[.25,.0245],[.3,.0276],[.35,.0304],
[.4,.0328],[.45,.0350],[.5,.0369],[.55,.0386],[.6,.0401],[.65,.0413],[.7,.0424],[.738,.0434]];
const parFit=[[0,0],[.005,.0006],[.01,.0011],[.02,.0017],[.03,.0020],[.05,.0023],[.08,.0025],[.12,.0026],
[.2,.0027],[.4,.0027],[.6,.0027],[.738,.0027]];
const lightFit=[[0,0],[.05,-6.6],[.1,-12.8],[.15,-18.0],[.2,-22.3],[.25,-26.0],[.3,-29.3],[.35,-32.2],
[.4,-35.0],[.45,-37.3],[.5,-39.2],[.55,-40.8],[.6,-42.2],[.65,-43.4],[.7,-44.4],[.738,-45.0]];

// ---------------- DRAWING ----------------
const TEAL="#5ab4ac", TAN="#d8b365", GREY="#a8a8a8", GREY_OPEN="#a3a3a3";
const R=2.85;
const svg=d3.select("#c");
const x=d3.scaleLinear().domain([-0.0365,0.775]).range([126.7,704.3]);
const ya=d3.scaleLinear().domain([-0.00941,0.0527]).range([462,3.3]);
const yb=d3.scaleLinear().domain([-78,3.56]).range([947,489]);
const flat=cols=>cols.flatMap(([f,vs])=>vs.map(v=>[f,v]));

function grid(g,y,yMaj,yMin){
  const [x0,x1]=x.range(), [y0,y1]=y.range();
  g.append("rect").attr("x",x0).attr("y",y1).attr("width",x1-x0).attr("height",y0-y1).attr("fill","#fff");
  g.selectAll(null).data(yMin).join("line").attr("x1",x0).attr("x2",x1)
   .attr("y1",d=>y(d)).attr("y2",d=>y(d)).attr("stroke","#ebebeb").attr("stroke-width",0.6);
  g.selectAll(null).data(xMinor).join("line").attr("y1",y0).attr("y2",y1)
   .attr("x1",d=>x(d)).attr("x2",d=>x(d)).attr("stroke","#ebebeb").attr("stroke-width",0.6);
  g.selectAll(null).data(yMaj).join("line").attr("x1",x0).attr("x2",x1)
   .attr("y1",d=>y(d)).attr("y2",d=>y(d)).attr("stroke","#ebebeb").attr("stroke-width",1.2);
  g.selectAll(null).data(xTicks).join("line").attr("y1",y0).attr("y2",y1)
   .attr("x1",d=>x(d)).attr("x2",d=>x(d)).attr("stroke","#ebebeb").attr("stroke-width",1.2);
}
function frame(g,y,yMaj,yLabels,xLabels){
  const [x0,x1]=x.range(), [y0,y1]=y.range();
  g.append("rect").attr("x",x0).attr("y",y1).attr("width",x1-x0).attr("height",y0-y1)
   .attr("fill","none").attr("stroke","#4d4d4d").attr("stroke-width",1.1);
  g.selectAll(null).data(yMaj).join("line").attr("x1",x0-4).attr("x2",x0)
   .attr("y1",d=>y(d)).attr("y2",d=>y(d)).attr("stroke","#333").attr("stroke-width",1);
  g.selectAll(null).data(yMaj).join("text").attr("x",x0-8.5).attr("y",d=>y(d)+7.8)
   .attr("text-anchor","end").attr("font-size",22).attr("fill","#4d4d4d").text((d,i)=>yLabels[i]);
  g.selectAll(null).data(xTicks).join("line").attr("x1",d=>x(d)).attr("x2",d=>x(d))
   .attr("y1",y0).attr("y2",y0+4).attr("stroke","#333").attr("stroke-width",1);
  if(xLabels){
    g.selectAll(null).data(xTicks).join("text").attr("x",d=>x(d)).attr("y",y0+24.5)
     .attr("text-anchor","middle").attr("font-size",22).attr("fill","#4d4d4d").text((d,i)=>xLabels[i]);
  }
}
function dots(g,data,y,col,open){
  g.selectAll(null).data(data).join("circle").attr("cx",d=>x(d[0])).attr("cy",d=>y(d[1])).attr("r",open?2.7:R)
   .attr("fill",open?"none":col).attr("stroke",open?col:"none").attr("stroke-width",open?0.9:0);
}
function zeroLine(g,y){
  g.append("line").attr("x1",x.range()[0]).attr("x2",x.range()[1]).attr("y1",y(0)).attr("y2",y(0))
   .attr("stroke","#000").attr("stroke-width",1).attr("stroke-dasharray","4.2,4.2");
}
function fitLine(g,data,y){
  g.append("path").datum(data).attr("fill","none").attr("stroke","#000").attr("stroke-width",1.3)
   .attr("d",d3.line().x(d=>x(d[0])).y(d=>y(d[1])).curve(d3.curveMonotoneX));
}
function labelBox(bg,textNode,pad){
  const b=textNode.getBBox();
  bg.append("rect").attr("x",b.x-pad).attr("y",b.y-pad+2).attr("width",b.width+2*pad).attr("height",b.height+2*pad-3).attr("fill","#fff");
}

// ---- Panel (a)
const ga=svg.append("g");
grid(ga.append("g"),ya,albedoTicks,albedoMinor);
const bgA=ga.append("g");
const ptsA=ga.append("g");
dots(ptsA,flat(nirDense).concat(flat(nirDenseB),nirDenseExtra),ya,TEAL,false);
dots(ptsA,nirGap,ya,TEAL,true);
dots(ptsA,flat(parDense).concat(parDenseExtra),ya,TAN,false);
dots(ptsA,parGap,ya,TAN,true);
zeroLine(ga,ya);
fitLine(ga,nirFit,ya);
fitLine(ga,parFit,ya);
const eqA=ga.append("g").attr("font-size",20.6).style("white-space","pre");
const t1=eqA.append("text").attr("x",401.7).attr("y",278).attr("fill",TEAL);
t1.append("tspan").text("NIR:  ");
t1.append("tspan").attr("font-style","italic").text("y");
t1.append("tspan").text(" = 0.051\u00b7[1\u2013exp(\u20132.5\u00b7f)]");
const t2=eqA.append("text").attr("x",401.7).attr("y",312.7).attr("fill",TAN);
t2.append("tspan").text("PAR: ");
t2.append("tspan").attr("font-style","italic").text("y");
t2.append("tspan").text(" = 0.002\u00b7[1\u2013exp(\u201323\u00b7f)]");
labelBox(bgA,t1.node(),3);
labelBox(bgA,t2.node(),3);
frame(ga,ya,albedoTicks,albedoTickLabels,null);
// legend
const lg=ga.append("g");
lg.append("rect").attr("x",148).attr("y",10).attr("width",282).attr("height",98).attr("fill","#fff");
lg.append("circle").attr("cx",165).attr("cy",69).attr("r",2.8).attr("fill","#000");
lg.append("circle").attr("cx",165).attr("cy",92).attr("r",2.6).attr("fill","none").attr("stroke","#000").attr("stroke-width",0.9);
lg.selectAll(null).data(legendLabels).join("text").attr("x",192).attr("y",(d,i)=>76.5+i*23.5)
  .attr("font-size",22).attr("fill","#000").text(d=>d);

// ---- Panel (b)
const gb=svg.append("g");
grid(gb.append("g"),yb,lightTicks,lightMinor);
const bgB=gb.append("g");
const ptsB=gb.append("g");
dots(ptsB,flat(lightDense).concat(flat(lightDenseB),lightDenseExtra),yb,GREY,false);
dots(ptsB,lightGap,yb,GREY_OPEN,true);
zeroLine(gb,yb);
fitLine(gb,lightFit,yb);
const t3=gb.append("text").attr("x",409).attr("y",571.7).attr("font-size",20.6).attr("fill","#000").style("white-space","pre");
t3.append("tspan").attr("font-style","italic").text("y");
t3.append("tspan").text(" = \u201352\u00b7[1\u2013exp(\u20132.8\u00b7f)]");
labelBox(bgB,t3.node(),3);
frame(gb,yb,lightTicks,lightTickLabels,xTickLabels);

// ---- Titles and tags
const ta=svg.append("text").attr("transform","translate(43,232.5) rotate(-90)").attr("text-anchor","middle").attr("font-size",29.5).attr("fill","#000");
ta.append("tspan").text("Change in albedo ");
ta.append("tspan").attr("font-weight","bold").text("(\u2013)");
svg.append("text").attr("transform","translate(26,718) rotate(-90)").attr("text-anchor","middle").attr("font-size",29.5).text("Change in");
svg.append("text").attr("transform","translate(57,718) rotate(-90)").attr("text-anchor","middle").attr("font-size",29.5).text("understorey light (%)");
const tx=svg.append("text").attr("x",415.5).attr("y",1011).attr("text-anchor","middle").attr("font-size",29.5).attr("fill","#000");
tx.append("tspan").text("Fraction of liana LAI ");
tx.append("tspan").attr("font-weight","bold").text("(\u2013)");
svg.append("text").attr("x",7).attr("y",25.5).attr("font-size",22).attr("font-weight","bold").text("(a)");
svg.append("text").attr("x",7).attr("y",516.5).attr("font-size",22).attr("font-weight","bold").text("(b)");
</script>
</body></html>
